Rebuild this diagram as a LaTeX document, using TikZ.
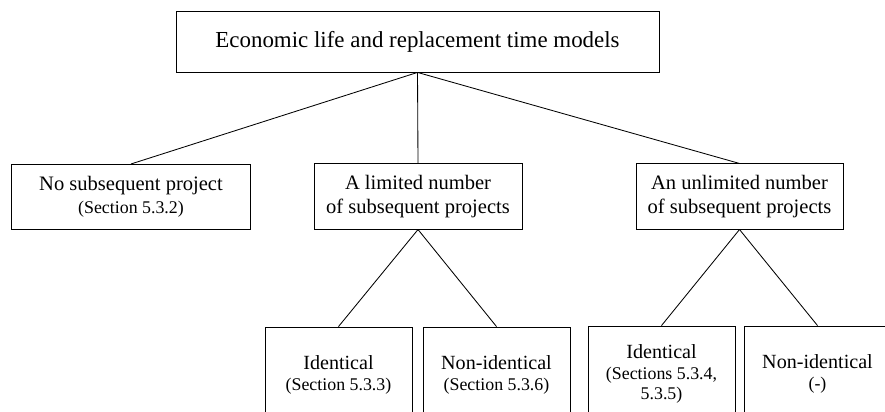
\documentclass[tikz,border=0pt]{standalone}
\usepackage{fontspec}
\setmainfont{Liberation Serif}
\usetikzlibrary{positioning}
\newcommand{\refsize}{\fontsize{12.7}{14.2}\selectfont}

\begin{document}
\begin{tikzpicture}[
  x=0.025cm, y=-0.025cm,
  model/.style={draw, line width=0.6pt, align=center, inner sep=0pt},
  rootbox/.style={model, minimum width=12.075cm, minimum height=1.525cm, font=\fontsize{16.3}{19}\selectfont},
  casebox/.style={model, minimum height=1.63cm, font=\fontsize{14.6}{16.6}\selectfont},
  leafbox/.style={model, minimum width=3.675cm, minimum height=2.4cm, font=\fontsize{14.3}{14.4}\selectfont},
  link/.style={line width=0.6pt}
]

\useasboundingbox (0,0) rectangle (885,412);
\clip (0,0) rectangle (885,412);

\node[rootbox] (models) at (417.5,41.5) {Economic life and replacement time models};

\node[casebox, minimum width=5.975cm] (nosub) at (131,197) {No subsequent project\\{\refsize (Section 5.3.2)}};
\node[casebox, minimum width=5.2cm] (limited) at (418,196.5) {A limited number\\of subsequent projects};
\node[casebox, minimum width=5.175cm] (unlimited) at (739.5,196.5) {An unlimited number\\of subsequent projects};

\draw[link] (models.south) -- (nosub.north);
\draw[link] (models.south) -- (limited.north);
\draw[link] (models.south) -- (unlimited.north);

\node[leafbox] (limid) at (338.5,375) {Identical\\{\refsize (Section 5.3.3)}};
\node[leafbox] (limnon) at (496.5,375) {Non-identical\\{\refsize (Section 5.3.6)}};
\node[leafbox] (unlid) at (661.5,374) {Identical\\{\refsize (Sections 5.3.4,}\\{\refsize 5.3.5)}};
\node[leafbox] (unlnon) at (817.5,374) {Non-identical\\{\refsize (-)}};

\draw[link] (limited.south) -- (limid.north);
\draw[link] (limited.south) -- (limnon.north);
\draw[link] (unlimited.south) -- (unlid.north);
\draw[link] (unlimited.south) -- (unlnon.north);

\end{tikzpicture}
\end{document}
